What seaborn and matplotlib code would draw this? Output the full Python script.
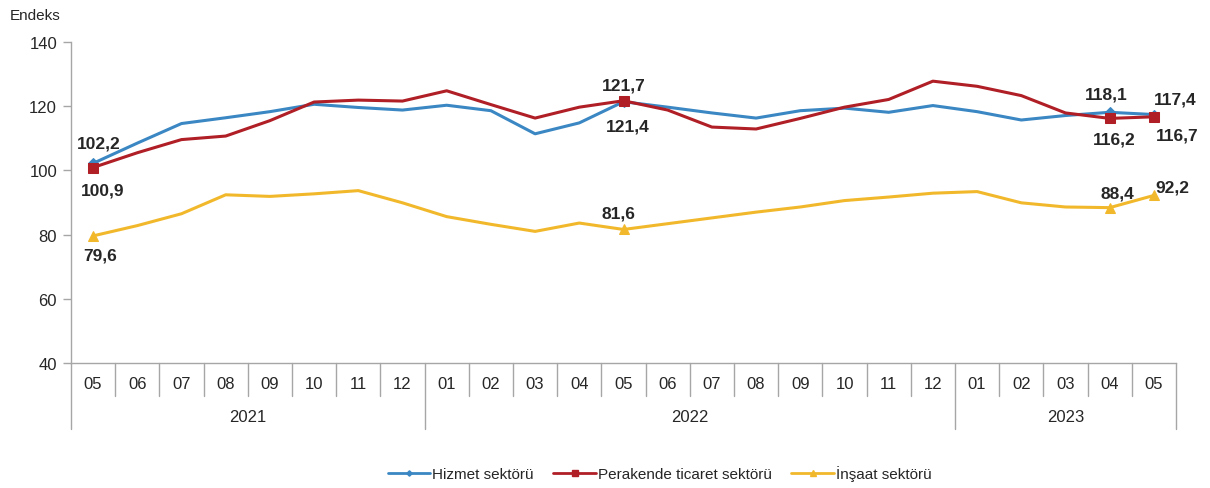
import pandas as pd
import numpy as np
import matplotlib
matplotlib.use("Agg")
import matplotlib.pyplot as plt
import matplotlib.transforms as mtransforms
from matplotlib.lines import Line2D
import seaborn as sns

# --- Veriler ---------------------------------------------------------------
months = ["05", "06", "07", "08", "09", "10", "11", "12",
          "01", "02", "03", "04", "05", "06", "07", "08", "09", "10", "11", "12",
          "01", "02", "03", "04", "05"]
years = ["2021", "2022", "2023"]
year_start = [0, 8, 20]          # yilin ilk ayinin sirasi
year_end = [7, 19, 24]           # yilin son ayinin sirasi

hizmet = [102.2, 108.5, 114.6, 116.4, 118.3, 120.6, 119.6, 118.8,
          120.3, 118.6, 111.4, 114.8, 121.4, 119.7, 117.9, 116.3, 118.6, 119.4, 118.1, 120.2,
          118.3, 115.7, 117.1, 118.1, 117.4]
perakende = [100.9, 105.5, 109.6, 110.7, 115.5, 121.3, 121.9, 121.6,
             124.8, 120.5, 116.3, 119.7, 121.7, 118.8, 113.5, 112.9, 116.2, 119.7, 122.1, 127.8,
             126.2, 123.3, 117.9, 116.2, 116.7]
insaat = [79.6, 82.8, 86.5, 92.4, 91.9, 92.7, 93.7, 89.9,
          85.6, 83.2, 81.0, 83.6, 81.6, 83.4, 85.2, 87.0, 88.6, 90.6, 91.7, 92.9,
          93.4, 89.9, 88.6, 88.4, 92.2]

labeled_idx = [0, 12, 23, 24]

# etiket kaydirmalari (piksel): her seri icin labeled_idx sirasiyla
off_hizmet = [(6, 20), (4, -24), (-3, 18), (21, 16)]
off_perakende = [(10, -22), (0, 16), (5, -21), (23, -18)]
off_insaat = [(7, -19), (-5, 16), (8, 15), (18, 8)]

series = [
    ("Hizmet sektörü", hizmet, "#3A87C3", "D", 5, off_hizmet),
    ("Perakende ticaret sektörü", perakende, "#B01E26", "s", 7, off_perakende),
    ("İnşaat sektörü", insaat, "#F2B82C", "^", 7, off_insaat),
]

# --- Stil ------------------------------------------------------------------
sns.set_style("white")
plt.rcParams["font.family"] = ["Liberation Sans", "DejaVu Sans"]

GRAY = "#A6A6A6"
TXT = "#262626"

fig = plt.figure(figsize=(12.1, 4.89), dpi=100)
ax = fig.add_axes([71 / 1210, 1 - 364 / 489, (1176 - 71) / 1210, (364 - 43) / 489])

handles = []
for name, vals, color, mk, ms, offs in series:
    df = pd.DataFrame({"idx": np.arange(len(vals)), "value": vals})
    sns.lineplot(data=df, x="idx", y="value", ax=ax, color=color, linewidth=2.2,
                 marker=mk, markersize=ms, markevery=labeled_idx,
                 markeredgecolor=color, errorbar=None, legend=False)
    for (i, (dx, dy)) in zip(labeled_idx, offs):
        ax.annotate(f"{vals[i]:.1f}".replace(".", ","), xy=(i, vals[i]),
                    xytext=(dx, dy), textcoords="offset pixels",
                    ha="center", va="center", fontsize=12.5, fontweight="bold", color=TXT)
    handles.append(Line2D([], [], color=color, lw=2, marker=mk, markersize=ms * 0.55,
                          markeredgecolor=color, label=name))

ax.set_xlim(-0.5, len(months) - 0.5)
ax.set_ylim(40, 140)
ax.set_yticks(np.arange(40, 141, 20))
ax.set_xticks([])
ax.set_xlabel("")
ax.set_ylabel("")
ax.tick_params(axis="y", left=True, length=6, width=1, color=GRAY, labelsize=12,
               labelcolor=TXT, pad=4)
for s in ["top", "right"]:
    ax.spines[s].set_visible(False)
for s in ["left", "bottom"]:
    ax.spines[s].set_color(GRAY)
    ax.spines[s].set_linewidth(1)

# --- Ay / yil ekseni -------------------------------------------------------
trans = mtransforms.blended_transform_factory(ax.transData, ax.transAxes)
month_depth = -(397 - 364) / 321
year_depth = -(430 - 364) / 321
year_bounds = [year_start[0] - 0.5] + [e + 0.5 for e in year_end]

for k in range(len(months) + 1):
    b = k - 0.5
    depth = year_depth if b in year_bounds else month_depth
    ax.plot([b, b], [0, depth], transform=trans, color=GRAY, lw=1, clip_on=False)

for i, m in enumerate(months):
    ax.text(i, -(385 - 364) / 321, m, transform=trans, ha="center", va="center",
            fontsize=12, color=TXT)

for y, s, e in zip(years, year_start, year_end):
    ax.text((s + e) / 2, -(418 - 364) / 321, y, transform=trans, ha="center",
            va="center", fontsize=12, color=TXT)

fig.text(10 / 1210, 1 - 16 / 489, "Endeks", ha="left", va="center", fontsize=11, color=TXT)

fig.legend(handles=handles, loc="center", bbox_to_anchor=(0.545, 0.03), ncol=3,
           frameon=False, fontsize=11, handlelength=2.8, handletextpad=0.1,
           columnspacing=1.3, labelcolor=TXT)

plt.savefig("out.png", dpi=100)
plt.close()
